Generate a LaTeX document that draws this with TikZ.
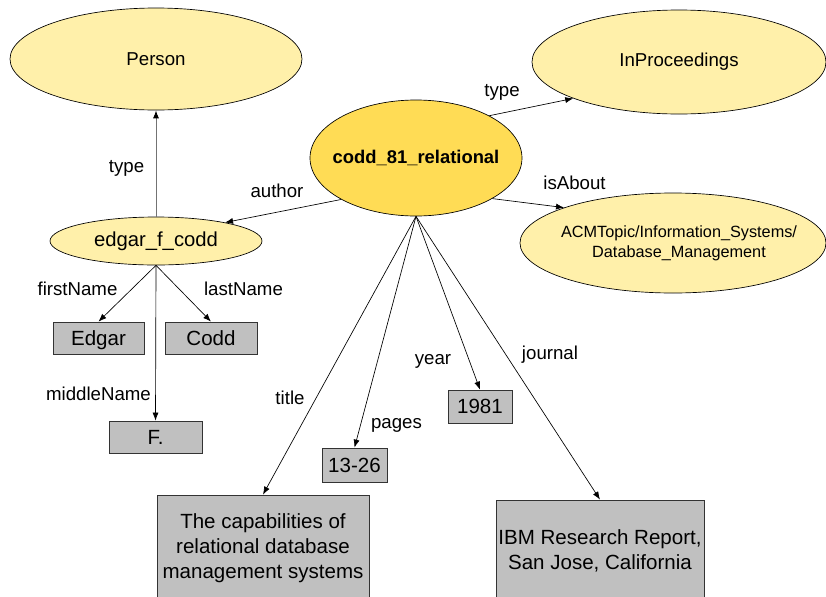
\documentclass[tikz,border=0pt]{standalone}
\usepackage{fontspec}
\setmainfont{Liberation Sans}
\usetikzlibrary{shapes.geometric,arrows.meta}
\definecolor{lightyel}{HTML}{FFF0AA}
\definecolor{goldyel}{HTML}{FFDC55}
\definecolor{boxgray}{HTML}{C0C0C0}
\tikzset{
  cls/.style={ellipse, draw=black, line width=0.5pt, fill=lightyel, inner sep=0pt, font=\fontsize{14}{16}\selectfont},
  res/.style={ellipse, draw=black, line width=0.5pt, fill=goldyel, inner sep=0pt, inner xsep=-10pt, font=\bfseries\fontsize{13.8}{16}\selectfont},
  lit/.style={rectangle, draw=black!80, line width=0.6pt, fill=boxgray, inner sep=0pt, font=\fontsize{15.4}{18.75}\selectfont, align=center},
  litone/.style={lit, text height=11pt, text depth=0pt},
  lbl/.style={inner sep=0pt, font=\fontsize{14}{16}\selectfont},
  rel/.style={draw=black, line width=0.5pt, -{Latex[length=6pt,width=4.5pt,color=black]}},
}
\begin{document}
\begin{tikzpicture}[x=0.75pt,y=-0.75pt]
\useasboundingbox (0,0) rectangle (826,597);
% ellipses
\node[cls, minimum width=219pt, minimum height=76.5pt] (person) at (156,59) {Person};
\node[cls, minimum width=220.5pt, minimum height=78pt] (inproc) at (679,62) {InProceedings};
\node[res, minimum width=159pt, minimum height=87pt] (codd) at (416,158) {codd\_81\_relational};
\node[cls, minimum width=159pt, minimum height=36pt, font=\fontsize{15.2}{17}\selectfont] (edgar) at (156,241) {edgar\_f\_codd};
\node[cls, minimum width=229.5pt, minimum height=75pt] (acm) at (673,243) {};
\node[inner sep=0pt, align=center, font=\fontsize{12.2}{15}\selectfont] (acmtext) at (679,243) {ACMTopic/Information\_Systems/\\Database\_Management};
% literal boxes
\node[litone, minimum width=68.25pt, minimum height=24pt] (edgarbox) at (98.5,338) {Edgar};
\node[litone, minimum width=69pt, minimum height=24pt] (coddbox) at (211,338) {Codd};
\node[litone, minimum width=69.75pt, minimum height=24pt] (fbox) at (155.5,437) {F.};
\node[litone, minimum width=48.75pt, minimum height=25.5pt] (pagesbox) at (354.5,465) {13-26};
\node[litone, minimum width=48pt, minimum height=24.75pt] (yearbox) at (480,406.5) {1981};
\node[lit, minimum width=159pt, minimum height=79.5pt] (titlebox) at (263,548) {The capabilities of\\relational database\\management systems};
\node[lit, minimum width=156pt, minimum height=75.75pt] (ibmbox) at (600,550.5) {IBM Research Report,\\San Jose, California};
% connectors
\draw[rel, draw=black!55, line width=0.7pt] (edgar) -- (person);
\draw[rel] (codd.209) -- (edgar.15);
\draw[rel] (codd.30) -- (inproc.199);
\draw[rel] (codd.-28) -- (acm.162);
\draw[rel] (edgar.south) -- (edgarbox.north);
\draw[rel] (edgar.south) -- (coddbox.north);
\draw[rel] (edgar.south) -- (fbox.north);
\draw[rel] (codd.south) -- (titlebox.north);
\draw[rel] (codd.south) -- (pagesbox.north);
\draw[rel] (codd.south) -- (yearbox.north);
\draw[rel] (codd.south) -- (ibmbox.north);
% labels
\node[lbl] (l1) at (126.5,168.5) {type};
\node[lbl] (l2) at (277,191) {author};
\node[lbl] (l3) at (502,92) {type};
\node[lbl] (l4) at (574.5,183) {isAbout};
\node[lbl] (l5) at (77.5,289) {firstName};
\node[lbl] (l6) at (243.5,289) {lastName};
\node[lbl] (l7) at (98.5,394) {middleName};
\node[lbl] (l8) at (290,398) {title};
\node[lbl] (l9) at (396.5,425) {pages};
\node[lbl] (l10) at (433,361) {year};
\node[lbl] (l11) at (550,355) {journal};
\end{tikzpicture}
\end{document}
